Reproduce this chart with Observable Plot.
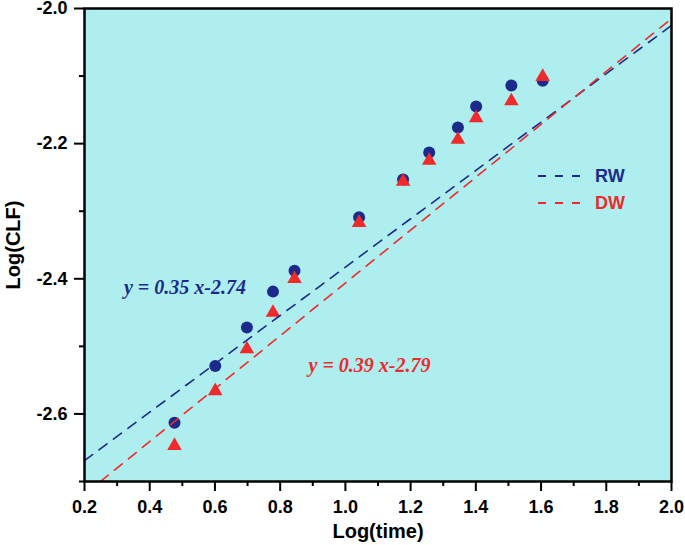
<!DOCTYPE html>
<html>
<head>
<meta charset="utf-8">
<script src="https://cdn.jsdelivr.net/npm/d3@7"></script>
<script src="https://cdn.jsdelivr.net/npm/@observablehq/plot@0.6"></script>
<style>
  html, body { margin: 0; padding: 0; background: #fff; }
  #wrap { position: relative; width: 685px; height: 545px; }
  #legend { position: absolute; left: 0; top: 0; pointer-events: none; }
</style>
</head>
<body>
<div id="wrap"></div>
<script>
// ---- data ----
const logTime = [0.476, 0.601, 0.698, 0.778, 0.844, 1.042, 1.177, 1.257, 1.345, 1.401, 1.509, 1.605];
const rwLogCLF = [-2.613, -2.529, -2.472, -2.419, -2.388, -2.309, -2.253, -2.213, -2.176, -2.145, -2.114, -2.107];
const dwLogCLF = [-2.647, -2.566, -2.504, -2.450, -2.400, -2.317, -2.256, -2.225, -2.194, -2.162, -2.137, -2.101];

const rwFitX = [0.2, 2.0];
const rwFitY = [-2.669, -2.025];
const dwFitX = [0.249, 2.0];
const dwFitY = [-2.7, -2.015];

const seriesNames = ["RW", "DW"];
const seriesColors = ["#1c2a8c", "#ee2a2a"];
const equations = ["y = 0.35 x-2.74", "y = 0.39 x-2.79"];
const eqX = [0.508, 1.074];
const eqY = [-2.413, -2.528];

const xMajor = [0.2, 0.4, 0.6, 0.8, 1.0, 1.2, 1.4, 1.6, 1.8, 2.0];
const xMinor = [0.3, 0.5, 0.7, 0.9, 1.1, 1.3, 1.5, 1.7, 1.9];
const yMajor = [-2.6, -2.4, -2.2, -2.0];
const yMinor = [-2.7, -2.5, -2.3, -2.1];

// ---- tables ----
const rw = logTime.map((x, i) => ({x, y: rwLogCLF[i]}));
const dw = logTime.map((x, i) => ({x, y: dwLogCLF[i]}));
const rwFit = rwFitX.map((x, i) => ({x, y: rwFitY[i]}));
const dwFit = dwFitX.map((x, i) => ({x, y: dwFitY[i]}));
const eqs = equations.map((t, i) => ({t, x: eqX[i], y: eqY[i], c: seriesColors[i]}));

const font = "Arial, 'Liberation Sans', sans-serif";

const chart = Plot.plot({
  width: 685,
  height: 545,
  marginLeft: 84,
  marginRight: 14,
  marginTop: 8,
  marginBottom: 64,
  style: {fontFamily: font, background: "white", overflow: "visible"},
  x: {domain: [0.2, 2.0]},
  y: {domain: [-2.7, -2.0]},
  marks: [
    Plot.frame({fill: "#afeeef", stroke: null}),
    Plot.axisX({ticks: xMinor, tickSize: 5, tickFormat: () => "", label: null, strokeWidth: 2, stroke: "black"}),
    Plot.axisX({ticks: xMajor, tickSize: 10, tickPadding: 9, tickFormat: d => d.toFixed(1), label: null,
      fontSize: 18, fontWeight: "bold", strokeWidth: 2, stroke: "black", fill: "black"}),
    Plot.axisY({ticks: yMinor, tickSize: 5, tickFormat: () => "", label: null, strokeWidth: 2, stroke: "black"}),
    Plot.axisY({ticks: yMajor, tickSize: 10, tickPadding: 7, tickFormat: d => d.toFixed(1), label: null,
      fontSize: 18, fontWeight: "bold", strokeWidth: 2, stroke: "black", fill: "black"}),
    Plot.dot(rw, {x: "x", y: "y", r: 6, fill: seriesColors[0], stroke: null}),
    Plot.dot(dw, {x: "x", y: "y", r: 5.4, symbol: "triangle", fill: seriesColors[1], stroke: null}),
    Plot.line(rwFit, {x: "x", y: "y", stroke: seriesColors[0], strokeWidth: 1.6, strokeDasharray: "10,8"}),
    Plot.line(dwFit, {x: "x", y: "y", stroke: seriesColors[1], strokeWidth: 1.6, strokeDasharray: "10,8"}),
    Plot.text(eqs, {x: "x", y: "y", text: "t", fill: "c", fontSize: 20, fontWeight: "bold", fontStyle: "italic",
      fontFamily: "'Times New Roman', 'Liberation Serif', serif"}),
    Plot.frame({stroke: "black", strokeWidth: 2.5, fill: null}),
    Plot.text(["Log(time)"], {frameAnchor: "bottom", dy: 50, fontSize: 20, fontWeight: "bold", fill: "black", lineAnchor: "middle", textAnchor: "middle"}),
    Plot.text(["Log(CLF)"], {frameAnchor: "left", dx: -71, rotate: -90, fontSize: 20, fontWeight: "bold", fill: "black", textAnchor: "middle", lineAnchor: "middle"})
  ]
});

const wrap = document.getElementById("wrap");
wrap.appendChild(chart);

// legend overlay
const ns = "http://www.w3.org/2000/svg";
const leg = document.createElementNS(ns, "svg");
leg.setAttribute("id", "legend");
leg.setAttribute("width", 685);
leg.setAttribute("height", 545);
const legY = [176, 203];
seriesNames.forEach((name, i) => {
  const l = document.createElementNS(ns, "line");
  l.setAttribute("x1", 538); l.setAttribute("x2", 580);
  l.setAttribute("y1", legY[i]); l.setAttribute("y2", legY[i]);
  l.setAttribute("stroke", seriesColors[i]);
  l.setAttribute("stroke-width", 1.8);
  l.setAttribute("stroke-dasharray", "8,9");
  leg.appendChild(l);
  const t = document.createElementNS(ns, "text");
  t.setAttribute("x", 595); t.setAttribute("y", legY[i] + 6);
  t.setAttribute("fill", seriesColors[i]);
  t.setAttribute("font-family", font);
  t.setAttribute("font-size", 18);
  t.setAttribute("font-weight", "bold");
  t.textContent = name;
  leg.appendChild(t);
});
wrap.appendChild(leg);
</script>
</body>
</html>
